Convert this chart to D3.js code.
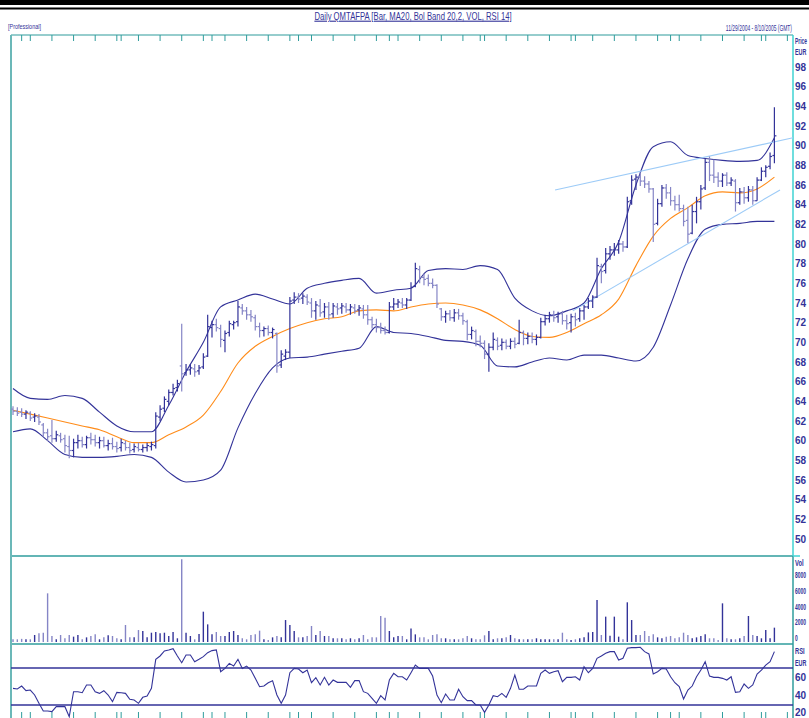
<!DOCTYPE html>
<html>
<head>
<meta charset="utf-8">
<script src="https://cdn.jsdelivr.net/npm/d3@7"></script>
<style>
  body { margin: 0; background: #fff; }
  svg { display: block; }
  text { font-family: "Liberation Sans", Arial, sans-serif; }
</style>
</head>
<body>
<div id="chart"></div>
<script>
// ---- data ----
const opens = [63.2,63.0,62.9,62.7,62.8,62.4,62.4,61.6,60.8,60.5,
  60.2,60.5,60.2,59.4,59.0,59.8,60.0,59.6,60.3,60.1,
  59.8,60.0,59.5,59.7,59.4,59.3,59.7,59.3,59.1,59.3,
  59.1,59.3,59.4,59.5,62.4,63.3,64.0,64.9,65.4,67.6,
  66.9,67.2,67.3,67.1,67.5,68.6,71.5,71.8,71.4,70.2,
  71.0,71.8,72.1,73.5,73.2,72.8,72.5,71.6,71.2,71.4,
  71.0,70.9,67.7,68.6,69.0,74.3,74.6,74.5,74.6,74.0,
  73.2,73.7,73.1,73.6,72.9,73.6,73.5,73.6,73.3,73.5,
  73.3,73.4,72.8,72.3,71.8,71.5,71.2,71.0,73.6,73.9,
  74.0,73.8,74.3,75.7,77.4,76.6,76.5,76.0,75.8,73.4,
  72.6,72.9,72.5,73.0,72.7,72.1,70.8,71.1,70.1,69.9,
  68.8,69.5,70.2,69.7,70.0,69.6,70.1,69.9,71.0,70.4,
  70.6,70.3,70.5,72.1,72.4,72.8,72.6,72.9,72.2,72.0,
  72.6,72.4,73.2,73.6,74.2,74.6,77.7,77.3,79.0,79.4,
  79.4,80.0,79.7,84.4,86.6,86.8,86.4,86.1,85.6,82.1,
  84.1,85.7,85.2,84.4,84.0,83.6,82.4,81.1,83.3,84.3,
  85.7,88.3,87.0,86.8,86.4,87.0,86.2,86.4,84.2,85.3,
  84.7,85.5,84.4,86.5,87.4,87.9,89.0];

const highs = [63.5,63.4,63.3,63.1,63.0,62.8,62.7,61.8,61.2,62.1,
  61.0,60.8,60.6,60.5,60.2,60.6,60.4,60.5,60.8,60.6,
  60.4,60.4,60.1,60.3,59.9,60.2,60.0,59.8,59.7,59.8,
  59.6,59.8,59.9,62.9,63.6,64.5,65.2,65.8,66.2,71.9,
  67.8,67.8,67.8,67.7,68.9,72.8,72.2,72.4,71.8,71.2,
  72.2,72.2,74.2,73.9,73.6,73.3,72.8,72.0,71.6,71.7,
  71.5,71.0,69.2,69.3,74.6,75.1,75.0,75.0,74.9,74.5,
  74.2,74.4,74.0,74.1,74.0,74.0,74.0,74.0,73.9,73.9,
  73.8,73.8,73.8,72.6,72.4,72.0,71.6,74.1,74.5,74.4,
  74.5,74.5,76.1,78.1,77.8,77.0,76.9,76.5,75.9,73.5,
  73.2,73.3,73.4,73.4,73.0,72.3,71.6,71.3,70.7,70.2,
  69.9,71.0,70.5,70.4,70.3,70.4,70.5,72.3,71.2,71.0,
  71.0,70.8,72.5,72.8,73.1,73.2,73.1,73.2,72.8,72.9,
  73.0,73.5,73.8,74.5,74.8,78.6,78.0,79.6,79.8,80.1,
  80.4,80.3,84.8,87.0,87.1,87.3,86.9,86.4,85.7,84.6,
  86.0,86.1,85.8,84.9,85.0,84.0,83.8,84.0,84.8,86.0,
  88.7,88.9,88.6,87.3,87.2,87.3,86.8,86.6,85.7,85.8,
  85.9,85.9,86.8,87.8,88.0,89.3,93.9];

const lows = [62.6,62.5,62.4,62.2,62.0,61.9,61.6,60.4,60.0,59.8,
  59.9,59.8,58.8,58.2,58.3,59.2,59.3,59.2,59.6,59.4,
  59.2,59.3,59.0,59.1,58.8,58.9,59.0,58.7,58.8,58.9,
  58.8,58.9,59.0,59.2,62.0,62.9,63.6,64.6,65.0,65.0,
  66.6,66.7,66.5,66.7,67.3,68.5,70.5,71.1,69.5,69.0,
  70.6,71.3,71.6,72.8,72.3,72.1,71.2,70.5,70.6,70.7,
  70.4,66.9,67.4,68.2,68.4,73.9,74.0,73.9,73.8,72.5,
  72.3,72.6,72.5,72.3,72.5,72.8,72.9,73.0,72.8,72.9,
  72.7,72.4,71.8,71.4,71.0,70.9,70.8,70.9,73.3,73.5,
  73.5,73.4,74.2,75.6,76.0,75.8,75.7,75.5,73.5,72.2,
  72.0,72.2,72.1,72.3,71.8,70.2,70.3,69.6,69.5,68.3,
  67.0,69.2,69.2,69.2,69.3,69.3,69.4,69.8,69.7,69.8,
  69.9,69.7,70.4,71.7,72.0,72.1,72.0,71.8,71.3,71.0,
  71.6,72.1,72.3,73.4,73.5,74.5,76.0,77.0,78.4,78.8,
  79.0,79.2,79.6,84.0,85.5,85.9,85.7,85.2,80.2,81.9,
  83.8,84.6,83.9,83.4,83.3,81.8,80.1,81.0,82.1,83.5,
  85.5,86.4,86.2,85.8,85.8,85.9,85.9,83.3,84.0,84.1,
  84.3,84.0,84.4,86.4,86.8,87.6,88.2];

const closes = [63.0,62.8,62.7,62.9,62.3,62.5,61.9,60.8,60.4,60.2,
  60.6,60.1,59.5,59.0,59.8,60.0,59.6,60.3,60.1,59.8,
  60.0,59.5,59.7,59.4,59.2,59.8,59.3,59.0,59.4,59.1,
  59.3,59.5,59.6,62.5,63.2,64.2,64.9,65.3,65.8,66.8,
  67.2,67.4,67.0,67.4,68.5,71.6,71.8,71.5,70.3,70.9,
  71.9,72.0,73.6,73.2,72.8,72.6,71.6,71.2,71.4,71.0,
  71.3,67.6,68.8,69.0,74.2,74.6,74.4,74.7,74.1,73.2,
  73.8,73.0,73.6,72.8,73.7,73.4,73.7,73.3,73.6,73.2,
  73.5,72.8,72.3,71.8,71.5,71.2,71.0,73.6,73.9,74.1,
  73.8,74.3,75.6,77.5,76.6,76.4,76.0,75.8,73.9,72.6,
  72.9,72.5,73.0,72.7,72.2,70.8,71.2,70.1,69.9,68.8,
  69.5,70.3,69.6,70.0,69.6,70.1,69.8,71.0,70.4,70.6,
  70.3,70.5,72.1,72.4,72.8,72.5,72.9,72.2,71.9,72.6,
  72.3,73.2,73.6,74.2,74.6,77.8,77.2,79.0,79.4,79.4,
  80.0,79.7,84.3,86.5,86.8,86.4,86.1,85.6,82.0,84.1,
  85.7,85.2,84.4,84.0,83.6,82.3,81.0,83.3,84.3,85.6,
  88.3,87.0,86.8,86.4,87.0,86.2,86.5,84.2,85.3,84.7,
  85.5,84.4,86.5,87.4,87.8,88.9,91.0];

const volumes = [340,340,400,340,340,890,1100,1180,6180,760,
  340,890,470,890,680,890,340,590,760,970,
  340,590,850,760,470,340,2160,590,590,1520,
  1400,590,1180,1270,1100,1180,760,1270,470,10500,
  1180,760,340,1020,3850,2240,970,1270,760,760,
  1270,1400,890,470,340,890,970,1440,340,250,
  590,760,590,2790,2160,1400,590,590,760,2030,
  890,1400,760,760,470,470,470,340,470,340,
  470,890,340,590,590,3300,3090,1400,590,760,
  760,340,1730,970,590,590,340,890,970,470,
  470,340,340,340,470,760,470,340,340,850,
  1400,340,470,470,590,890,470,340,340,340,
  340,470,340,340,340,340,340,1180,340,250,
  340,470,590,1220,1270,5330,890,3220,800,3220,
  680,340,5040,2790,890,890,1400,760,970,590,
  470,680,760,470,590,1180,890,470,590,760,
  970,470,470,250,4910,470,340,340,470,760,
  3300,890,760,470,1520,470,1820];

const rsi = [48.0,47.3,50.5,45.5,46.2,40.8,31.8,23.5,23.5,22.8,
  28.2,28.2,28.2,17.4,44.4,44.4,43.3,51.6,51.6,44.4,
  42.6,45.5,40.8,33.6,43.7,43.3,42.6,36.1,35.4,31.8,
  38.3,39.7,48.0,79.4,83.0,88.4,89.5,90.9,83.0,75.7,
  84.1,84.1,76.8,79.4,82.3,86.6,88.8,89.5,66.0,69.6,
  75.0,72.1,79.4,69.6,72.1,67.8,58.8,49.8,50.5,54.1,
  56.3,40.8,31.8,40.8,64.9,69.6,68.9,64.9,67.8,54.1,
  59.5,51.6,59.9,51.6,57.0,54.5,54.5,54.5,49.1,56.3,
  56.3,44.4,42.6,37.2,31.8,40.1,35.4,57.0,64.2,60.5,
  60.5,57.0,64.9,73.2,69.6,69.6,69.6,61.3,40.8,32.5,
  41.9,35.4,35.4,47.0,39.0,34.7,34.7,30.0,30.0,22.1,
  30.0,40.1,39.0,42.6,38.3,48.0,62.4,47.0,47.0,50.5,
  50.5,50.5,64.2,67.8,64.2,66.0,67.1,55.2,59.9,59.9,
  60.5,57.0,71.4,64.9,69.6,80.5,83.0,85.9,87.7,87.7,
  78.7,80.5,91.3,92.0,92.0,92.4,87.7,85.2,63.5,66.0,
  69.6,68.9,60.5,54.1,49.8,36.5,46.2,50.5,60.5,67.8,
  76.8,61.3,59.9,59.9,58.8,57.0,60.5,43.7,44.4,52.7,
  48.0,51.6,63.5,67.8,73.2,76.8,87.7];

// Bollinger band / MA20 read every 4th bar (bar 0, 4, 8 ... 176)
const bandStep = 4;
const upperBand = [65.3,64.3,64.2,64.6,64.3,62.9,61.5,60.9,60.9,63.6,
  67.0,70.0,73.6,74.3,74.9,74.4,73.9,75.5,76.0,76.3,
  76.5,75.0,75.3,75.5,77.3,77.5,77.4,77.8,77.4,74.5,
  73.2,72.7,73.2,74.0,77.5,80.2,86.0,89.9,90.4,89.0,
  88.7,88.5,88.4,88.5,90.8];
const midBand = [63.1,62.7,62.3,61.9,61.5,61.1,60.4,59.8,59.8,60.6,
  61.4,62.6,65.0,67.9,69.6,70.6,71.4,72.0,72.4,72.6,
  73.2,73.3,73.2,73.6,73.9,74.0,73.8,73.3,72.4,71.3,
  70.6,70.5,71.0,71.9,72.8,74.4,77.8,80.8,82.6,83.7,
  84.9,85.3,85.2,85.6,86.8];
const lowerBand = [60.9,61.2,60.0,58.6,58.3,58.3,58.4,58.6,58.3,56.8,
  55.8,56.0,57.0,61.3,64.8,67.4,68.4,68.5,68.8,69.1,
  69.4,71.6,71.0,70.9,70.6,70.2,70.1,69.7,67.6,67.5,
  68.0,68.4,68.2,68.7,68.7,68.4,68.1,69.5,73.8,78.5,
  81.5,82.0,82.1,82.3,82.3];

// hand drawn trend lines: [bar, price]
const trendLines = [
  [[125.3, 85.5], [180.3, 90.8]],
  [[129.4, 73.2], [177.3, 85.5]]
];

// time ticks (bar index): week ends and first trading day of month
const weekTicks = d3.range(4, 181, 5);
const monthTicks = [2, 25, 46, 66, 87, 108, 130, 152, 173];

const priceTicks = d3.range(50, 99, 2);
const volTicks = [0, 2000, 4000, 6000, 8000];
const rsiTicks = [20, 40, 60];
const rsiLevels = [30, 70];

// ---- layout ----
const width = 809, height = 718;
const left = 11, axisX = 793;
const pricePanel = { top: 35, bottom: 556 };
const volPanel = { top: 556, bottom: 644 };
const rsiPanel = { top: 644, bottom: 718 };

const navy = '#333399';
const lightBar = '#8585c6';
const teal = '#2f9c9c';

const svg = d3.select('#chart').append('svg')
  .attr('width', width)
  .attr('height', height);

const x = d3.scaleLinear().domain([0, 176]).range([13, 774.4]);
const yPrice = d3.scaleLinear().domain([50, 98]).range([539, 67]);
const yVol = d3.scaleLinear().domain([0, 8000]).range([642, 579]);
const yRsi = d3.scaleLinear().domain([30, 70]).range([705, 668]);

// clip paths for each panel
const defs = svg.append('defs');
[['clipPrice', pricePanel], ['clipVol', volPanel], ['clipRsi', rsiPanel]].forEach(([id, p]) => {
  defs.append('clipPath').attr('id', id)
    .append('rect')
    .attr('x', left).attr('y', p.top)
    .attr('width', axisX - left).attr('height', p.bottom - p.top);
});

// condensed text: squeeze horizontally with a transform
function narrowText(g, tx, ty, txt, size, sx, anchor) {
  return g.append('text')
    .attr('transform', `translate(${tx},${ty}) scale(${sx},1)`)
    .attr('text-anchor', anchor || 'start')
    .attr('font-size', size)
    .text(txt);
}

// ---- header ----
svg.append('rect').attr('x', 0).attr('y', 0).attr('width', width).attr('height', 5).attr('fill', '#000');
svg.append('rect').attr('x', 0).attr('y', 7.5).attr('width', width).attr('height', 2).attr('fill', '#000');

const head = svg.append('g').attr('fill', navy);
narrowText(head, 413, 19.5, 'Daily QMTAFPA [Bar, MA20, Bol Band 20,2, VOL, RSI 14]', 11, 0.7, 'middle')
  .attr('text-decoration', 'underline');
narrowText(head, 8, 28.5, '[Professional]', 8, 0.68);
narrowText(head, 792, 30.5, '11/29/2004 - 8/10/2005 (GMT)', 8.5, 0.58, 'end');

// ---- frame ----
const frame = svg.append('g').attr('class', 'frame');
frame.append('line')
  .attr('x1', left).attr('x2', axisX).attr('y1', pricePanel.top).attr('y2', pricePanel.top)
  .attr('stroke', teal).attr('stroke-width', 1.2);
[volPanel.top, rsiPanel.top].forEach(yy => {
  frame.append('line')
    .attr('x1', left).attr('x2', axisX).attr('y1', yy).attr('y2', yy)
    .attr('stroke', teal).attr('stroke-width', 1.5);
});
frame.append('line')
  .attr('x1', left).attr('x2', left).attr('y1', pricePanel.top).attr('y2', height)
  .attr('stroke', '#6bb8b8').attr('stroke-width', 2);
frame.append('line')
  .attr('x1', axisX).attr('x2', axisX).attr('y1', pricePanel.top).attr('y2', volPanel.top)
  .attr('stroke', '#3fd3d3').attr('stroke-width', 1.5);
frame.append('line')
  .attr('x1', axisX).attr('x2', axisX).attr('y1', volPanel.top).attr('y2', height)
  .attr('stroke', teal).attr('stroke-width', 1.5);
frame.append('line')
  .attr('x1', axisX).attr('x2', 800).attr('y1', volPanel.top).attr('y2', volPanel.top)
  .attr('stroke', '#3fd3d3').attr('stroke-width', 1.5);

// time ticks on top and bottom border
const allTicks = weekTicks.concat(monthTicks);
frame.selectAll('.ttop').data(allTicks).enter().append('line')
  .attr('x1', d => x(d)).attr('x2', d => x(d))
  .attr('y1', pricePanel.top).attr('y2', pricePanel.top + 6)
  .attr('stroke', teal).attr('stroke-width', 1);
frame.selectAll('.tbot').data(allTicks).enter().append('line')
  .attr('x1', d => x(d)).attr('x2', d => x(d))
  .attr('y1', height - 6).attr('y2', height)
  .attr('stroke', teal).attr('stroke-width', 1);

// ---- right axis labels ----
const axisText = svg.append('g')
  .attr('fill', navy)
  .attr('font-weight', 'bold');

narrowText(axisText, 795, 44, 'Price', 9, 0.55);
narrowText(axisText, 795, 55, 'EUR', 9, 0.6);
axisText.selectAll('.pt').data(priceTicks).enter().append('text')
  .attr('x', 795).attr('y', d => yPrice(d))
  .attr('dy', '0.35em')
  .attr('font-size', 10)
  .text(d => d);

narrowText(axisText, 795, 566, 'Vol', 9, 0.65);
volTicks.forEach(v => narrowText(axisText, 795, yVol(v) - 1, v, 9, 0.55));

narrowText(axisText, 795, 654, 'RSI', 9, 0.65);
narrowText(axisText, 795, 666, 'EUR', 9, 0.6);
// keep the lowest label inside the page
axisText.selectAll('.rt').data(rsiTicks).enter().append('text')
  .attr('x', 795).attr('y', d => Math.min(yRsi(d), 712))
  .attr('dy', '0.35em')
  .attr('font-size', 10)
  .text(d => d);

// ---- price panel ----
const bars = d3.range(closes.length).map(i => ({
  i, o: opens[i], h: highs[i], l: lows[i], c: closes[i], v: volumes[i]
}));
const barColor = d => d.c >= d.o ? navy : lightBar;

const priceG = svg.append('g').attr('clip-path', 'url(#clipPrice)');

// bollinger bands and moving average
const bandLine = data => d3.line()
  .x((d, k) => x(k * bandStep))
  .y(d => yPrice(d))
  .curve(d3.curveMonotoneX)(data);

priceG.append('path').attr('d', bandLine(upperBand))
  .attr('fill', 'none').attr('stroke', navy).attr('stroke-width', 1.1);
priceG.append('path').attr('d', bandLine(lowerBand))
  .attr('fill', 'none').attr('stroke', navy).attr('stroke-width', 1.1);
priceG.append('path').attr('d', bandLine(midBand))
  .attr('fill', 'none').attr('stroke', '#ff8c1a').attr('stroke-width', 1.1);

// trend lines
priceG.selectAll('.trend').data(trendLines).enter().append('line')
  .attr('x1', d => x(d[0][0])).attr('y1', d => yPrice(d[0][1]))
  .attr('x2', d => x(d[1][0])).attr('y2', d => yPrice(d[1][1]))
  .attr('stroke', '#9dcbf7').attr('stroke-width', 1.1);

// OHLC bars
const ohlc = priceG.selectAll('.bar').data(bars).enter().append('g')
  .attr('stroke', barColor)
  .attr('stroke-width', 1.2);
ohlc.append('line')
  .attr('x1', d => x(d.i)).attr('x2', d => x(d.i))
  .attr('y1', d => yPrice(d.h)).attr('y2', d => yPrice(d.l));
ohlc.append('line')
  .attr('x1', d => x(d.i) - 2).attr('x2', d => x(d.i))
  .attr('y1', d => yPrice(d.o)).attr('y2', d => yPrice(d.o));
ohlc.append('line')
  .attr('x1', d => x(d.i)).attr('x2', d => x(d.i) + 2)
  .attr('y1', d => yPrice(d.c)).attr('y2', d => yPrice(d.c));

// ---- volume panel ----
svg.append('g').attr('clip-path', 'url(#clipVol)')
  .selectAll('line').data(bars).enter().append('line')
  .attr('x1', d => x(d.i)).attr('x2', d => x(d.i))
  .attr('y1', yVol(0)).attr('y2', d => yVol(d.v))
  .attr('stroke', barColor)
  .attr('stroke-width', 1.4);

// ---- RSI panel ----
const rsiG = svg.append('g').attr('clip-path', 'url(#clipRsi)');
rsiG.selectAll('.lvl').data(rsiLevels).enter().append('line')
  .attr('x1', left).attr('x2', axisX)
  .attr('y1', d => yRsi(d)).attr('y2', d => yRsi(d))
  .attr('stroke', navy).attr('stroke-width', 1.3);
rsiG.append('path')
  .datum(rsi)
  .attr('d', d3.line().x((d, i) => x(i)).y(d => yRsi(d)))
  .attr('fill', 'none')
  .attr('stroke', navy)
  .attr('stroke-width', 1.1);
</script>
</body>
</html>
